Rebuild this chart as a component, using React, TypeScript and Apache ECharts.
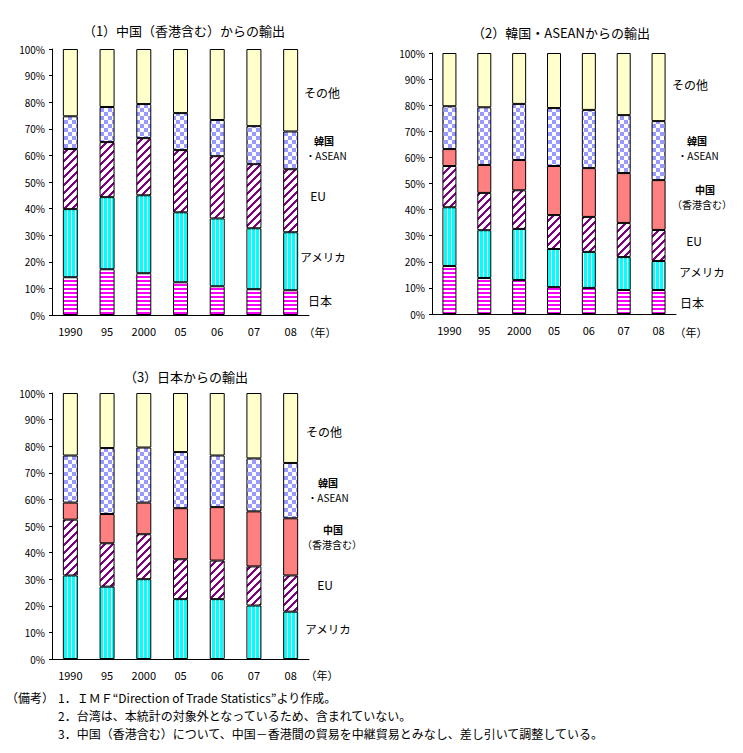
import React, { useEffect, useRef } from 'react';
import * as echarts from 'echarts';

const years = ['1990', '95', '2000', '05', '06', '07', '08'];
const yTicks = [0, 10, 20, 30, 40, 50, 60, 70, 80, 90, 100];

// (1) 中国（香港含む）からの輸出 — shares (%)
const c1Japan = [14.2, 17.2, 15.7, 12.3, 10.8, 9.7, 9.3];
const c1USA = [25.6, 27.1, 29.3, 26.3, 25.5, 22.9, 21.8];
const c1EU = [22.6, 20.7, 21.5, 23.4, 23.4, 24.1, 23.7];
const c1KA = [12.3, 13.2, 12.8, 13.9, 13.6, 14.3, 14.2];
const c1Other = [25.3, 21.8, 20.7, 24.1, 26.7, 29.0, 31.0];

// (2) 韓国・ASEANからの輸出
const c2Japan = [18.4, 13.8, 13.0, 10.3, 10.0, 9.2, 9.2];
const c2USA = [22.5, 18.3, 19.6, 14.6, 13.8, 12.6, 11.1];
const c2EU = [15.8, 14.3, 14.8, 13.0, 13.4, 13.1, 11.9];
const c2China = [6.5, 10.7, 11.6, 18.8, 18.7, 19.1, 19.1];
const c2KA = [16.4, 22.1, 21.5, 22.2, 22.3, 22.2, 22.6];
const c2Other = [20.4, 20.8, 19.5, 21.1, 21.8, 23.8, 26.1];

// (3) 日本からの輸出
const c3USA = [31.4, 27.2, 30.0, 22.5, 22.5, 20.1, 17.8];
const c3EU = [21.0, 16.3, 16.9, 15.0, 14.5, 14.7, 13.6];
const c3China = [6.4, 11.0, 11.9, 19.2, 20.1, 20.7, 21.5];
const c3KA = [17.7, 24.8, 20.7, 21.1, 19.4, 19.9, 20.8];
const c3Other = [23.5, 20.7, 20.5, 22.2, 23.5, 24.6, 26.3];

const titles = ['（1）中国（香港含む）からの輸出', '（2）韓国・ASEANからの輸出', '（3）日本からの輸出'];
const notes = [
  '1．ＩＭＦ“Direction of Trade Statistics”より作成。',
  '2．台湾は、本統計の対象外となっているため、含まれていない。',
  '3．中国（香港含む）について、中国－香港間の貿易を中継貿易とみなし、差し引いて調整している。',
];

const FONT = '"Noto Sans CJK JP", "Liberation Sans", sans-serif';

function makeTile(w: number, h: number, draw: (ctx: CanvasRenderingContext2D) => void) {
  const c = document.createElement('canvas');
  c.width = w;
  c.height = h;
  const ctx = c.getContext('2d')!;
  ctx.fillStyle = '#ffffff';
  ctx.fillRect(0, 0, w, h);
  draw(ctx);
  return { image: c, repeat: 'repeat' };
}

export default function App() {
  const ref = useRef<HTMLDivElement>(null);

  useEffect(() => {
    document.body.style.margin = '0';
    const chart = echarts.init(ref.current!, undefined, { renderer: 'svg', width: 743, height: 753 });

    const japanFill = makeTile(4, 4, (ctx) => {
      ctx.fillStyle = '#FF00FF';
      ctx.fillRect(0, 0, 4, 2);
    });
    const usaFill = makeTile(4, 4, (ctx) => {
      ctx.fillStyle = '#00FFFF';
      ctx.fillRect(0, 0, 3, 4);
    });
    const euFill = makeTile(8, 8, (ctx) => {
      ctx.fillStyle = '#800080';
      for (let y = 0; y < 8; y++) {
        for (let k = 0; k < 3; k++) {
          const x = (7 - y + k + 8) % 8;
          ctx.fillRect(x, y, 1, 1);
        }
      }
    });
    const kaFill = makeTile(8, 8, (ctx) => {
      ctx.fillStyle = '#9999FF';
      ctx.fillRect(0, 0, 4, 4);
      ctx.fillRect(4, 4, 4, 4);
    });
    const chinaFill = '#FF8080';
    const otherFill = '#FFFFCC';

    const grids = [
      { left: 52, top: 49, width: 257, height: 266 },
      { left: 432, top: 53, width: 244, height: 261 },
      { left: 52, top: 393, width: 257, height: 266 },
    ];
    const barWidths = [15, 14, 15];

    const seriesSets: [string, number[], any][][] = [
      [
        ['日本', c1Japan, japanFill],
        ['アメリカ', c1USA, usaFill],
        ['EU', c1EU, euFill],
        ['韓国・ASEAN', c1KA, kaFill],
        ['その他', c1Other, otherFill],
      ],
      [
        ['日本', c2Japan, japanFill],
        ['アメリカ', c2USA, usaFill],
        ['EU', c2EU, euFill],
        ['中国（香港含む）', c2China, chinaFill],
        ['韓国・ASEAN', c2KA, kaFill],
        ['その他', c2Other, otherFill],
      ],
      [
        ['アメリカ', c3USA, usaFill],
        ['EU', c3EU, euFill],
        ['中国（香港含む）', c3China, chinaFill],
        ['韓国・ASEAN', c3KA, kaFill],
        ['その他', c3Other, otherFill],
      ],
    ];

    const series: any[] = [];
    seriesSets.forEach((set, gi) => {
      set.forEach(([name, data, fill]) => {
        series.push({
          type: 'bar',
          name,
          xAxisIndex: gi,
          yAxisIndex: gi,
          stack: 'total' + gi,
          barWidth: barWidths[gi],
          data,
          itemStyle: { color: fill, borderColor: '#000', borderWidth: 1 },
          emphasis: { disabled: true },
        });
      });
    });

    const xAxis = grids.map((_, gi) => ({
      type: 'category',
      gridIndex: gi,
      data: years,
      axisLine: { lineStyle: { color: '#000', width: 1 } },
      axisTick: { length: 3, lineStyle: { color: '#000' } },
      axisLabel: { color: '#000', fontSize: 11, margin: 10, fontFamily: FONT },
    }));
    const yAxis = grids.map((_, gi) => ({
      type: 'value',
      gridIndex: gi,
      min: yTicks[0],
      max: yTicks[yTicks.length - 1],
      interval: 10,
      axisLine: { show: true, lineStyle: { color: '#000', width: 1 } },
      axisTick: { show: true, length: 3, lineStyle: { color: '#000' } },
      splitLine: { show: false },
      axisLabel: { color: '#000', fontSize: 10, margin: 7, fontFamily: FONT, formatter: '{value}%' },
    }));

    const txt = (text: string, x: number, y: number, size: number, extra: any = {}) => ({
      type: 'text',
      x,
      y,
      silent: true,
      style: {
        text,
        fill: '#000',
        font: `${extra.bold ? 'bold ' : ''}${size}px ${FONT}`,
        align: extra.align || 'center',
        verticalAlign: 'middle',
      },
    });

    const graphics: any[] = [
      txt(titles[0], 184, 30, 13),
      txt(titles[1], 561, 32, 13),
      txt(titles[2], 186, 376, 13),
      // chart 1 labels
      txt('その他', 322, 92, 12),
      txt('韓国', 324, 140, 10, { bold: true }),
      txt('・ASEAN', 326, 155, 10),
      txt('EU', 318, 195, 12),
      txt('アメリカ', 323, 257, 11.5),
      txt('日本', 320, 300, 12),
      txt('（年）', 320, 332, 11),
      // chart 2 labels
      txt('その他', 690, 84, 12),
      txt('韓国', 697, 140, 10, { bold: true }),
      txt('・ASEAN', 698, 155, 10),
      txt('中国', 705, 189, 10, { bold: true }),
      txt('（香港含む）', 702, 204, 10),
      txt('EU', 694, 240, 12),
      txt('アメリカ', 702, 272, 11.5),
      txt('日本', 692, 302, 12),
      txt('（年）', 691, 332, 11),
      // chart 3 labels
      txt('その他', 324, 431, 12),
      txt('韓国', 328, 482, 10, { bold: true }),
      txt('・ASEAN', 328, 497, 10),
      txt('中国', 333, 529, 10, { bold: true }),
      txt('（香港含む）', 332, 544, 10),
      txt('EU', 325, 584, 12),
      txt('アメリカ', 328, 629, 11.5),
      txt('（年）', 322, 675, 11),
      // notes
      txt('（備考）', 6, 697, 12, { align: 'left' }),
      txt(notes[0], 58, 697, 12, { align: 'left' }),
      txt(notes[1], 58, 715, 12, { align: 'left' }),
      txt(notes[2], 58, 733, 12, { align: 'left' }),
    ];

    chart.setOption({
      animation: false,
      backgroundColor: '#ffffff',
      textStyle: { fontFamily: FONT },
      grid: grids.map((g) => ({ ...g, containLabel: false, outerBoundsMode: 'none' })),
      xAxis,
      yAxis,
      series,
      graphic: graphics,
    });

    return () => chart.dispose();
  }, []);

  return <div ref={ref} style={{ width: 743, height: 753 }} />;
}
